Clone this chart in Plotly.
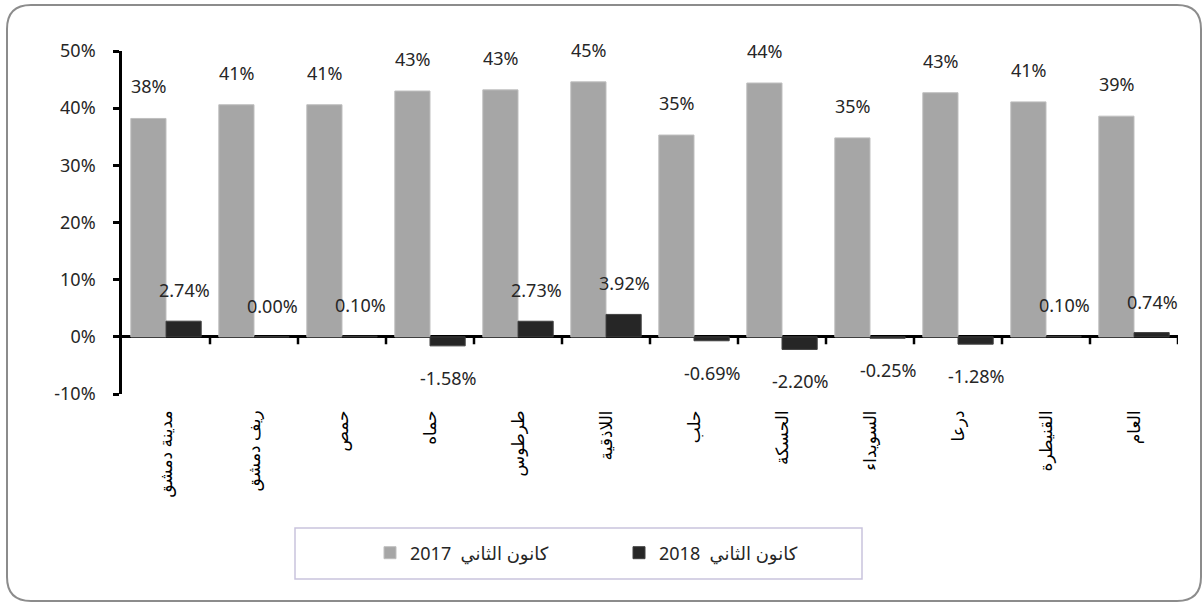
import plotly.graph_objects as go

categories = ["مدينة دمشق", "ريف دمشق", "حمص", "حماه", "طرطوس", "اللاذقية",
              "حلب", "الحسكة", "السويداء", "درعا", "القنيطرة", "العام"]
values_2017 = [38.2, 40.6, 40.6, 43.0, 43.2, 44.6, 35.3, 44.4, 34.8, 42.7, 41.1, 38.6]
values_2018 = [2.74, 0.00, 0.10, -1.58, 2.73, 3.92, -0.69, -2.20, -0.25, -1.28, 0.10, 0.74]
name_2017 = "2017  كانون الثاني"
name_2018 = "2018  كانون الثاني"
y_ticks = [-10, 0, 10, 20, 30, 40, 50]
y_tick_labels = ["-10%", "0%", "10%", "20%", "30%", "40%", "50%"]

FONT = "Noto Sans, DejaVu Sans, sans-serif"
W, H = 1204, 603
L, R, T, B = 122, 1178, 51, 394


def px2x(px):
    return (px - L) / (R - L)


def py2y(py):
    return (B - py) / (B - T)


fig = go.Figure()
fig.add_trace(go.Bar(x=categories, y=values_2017, name=name_2017,
                     marker=dict(color="#A6A6A6", line=dict(color="#BFBFBF", width=1))))
fig.add_trace(go.Bar(x=categories, y=values_2018, name=name_2018,
                     marker=dict(color="#262626", line=dict(color="#404040", width=1))))

annotations = []
for i, v in enumerate(values_2017):
    annotations.append(dict(x=categories[i], y=v, xref="x", yref="y", text=f"{v:.0f}%",
                            showarrow=False, xshift=-17, yshift=32,
                            font=dict(family=FONT, size=18, color="#262626")))
for i, v in enumerate(values_2018):
    annotations.append(dict(x=categories[i], y=v, xref="x", yref="y", text=f"{v:.2f}%",
                            showarrow=False, xshift=18, yshift=(31 if v >= 0 else -32),
                            font=dict(family=FONT, size=18, color="#262626")))

shapes = []
# x-axis tick marks on the zero line, at category boundaries
for i in range(len(categories)):
    shapes.append(dict(type="line", xref="x", yref="y", x0=i + 0.5, x1=i + 0.5,
                       y0=0, y1=-1.3, line=dict(color="black", width=2.5)))

# rounded outer frame
fx0, fy0, fx1, fy1, r = 7, 5, 1201, 601, 24
pts = [
    ("M", (fx0 + r, fy0)), ("L", (fx1 - r, fy0)), ("Q", (fx1, fy0), (fx1, fy0 + r)),
    ("L", (fx1, fy1 - r)), ("Q", (fx1, fy1), (fx1 - r, fy1)),
    ("L", (fx0 + r, fy1)), ("Q", (fx0, fy1), (fx0, fy1 - r)),
    ("L", (fx0, fy0 + r)), ("Q", (fx0, fy0), (fx0 + r, fy0)),
]
path = ""
for item in pts:
    cmd = item[0]
    coords = " ".join(f"{px2x(p[0]):.5f},{py2y(p[1]):.5f}" for p in item[1:])
    path += f"{cmd}{coords} "
path += "Z"
shapes.append(dict(type="path", xref="paper", yref="paper", path=path,
                   line=dict(color="#8C8C8C", width=2)))

# legend box
shapes.append(dict(type="rect", xref="paper", yref="paper",
                   x0=px2x(295), x1=px2x(862), y0=py2y(528), y1=py2y(579),
                   line=dict(color="#C9C3DD", width=1.5), fillcolor="white", layer="below"))

fig.update_layout(
    width=W, height=H,
    margin=dict(l=L, r=W - R, t=T, b=H - B, pad=0),
    paper_bgcolor="white", plot_bgcolor="white",
    barmode="group", bargap=0.2, bargroupgap=0,
    font=dict(family=FONT, size=18, color="#262626"),
    showlegend=True,
    legend=dict(orientation="h", x=px2x(370), y=py2y(553), xanchor="left", yanchor="middle",
                bgcolor="rgba(0,0,0,0)", borderwidth=0,
                entrywidth=204, entrywidthmode="pixels",
                font=dict(family=FONT, size=18, color="#262626"), traceorder="normal"),
    xaxis=dict(type="category", range=[-0.5, len(categories) - 0.5],
               showline=False, ticks="", showgrid=False, zeroline=False,
               tickangle=-90, ticklabelstandoff=12,
               tickfont=dict(family=FONT, size=17, color="black")),
    yaxis=dict(range=[-10, 50], tickmode="array", tickvals=y_ticks, ticktext=y_tick_labels,
               showline=True, linecolor="black", linewidth=2.5,
               ticks="outside", ticklen=6, tickwidth=2.5, tickcolor="black",
               showgrid=False, zeroline=True, zerolinecolor="black", zerolinewidth=2.5,
               tickfont=dict(family=FONT, size=18, color="#262626"), ticklabelstandoff=14),
    annotations=annotations,
    shapes=shapes,
)

fig.write_html("out.html", config={"displayModeBar": False},
               post_script="document.body.style.margin='0';")
